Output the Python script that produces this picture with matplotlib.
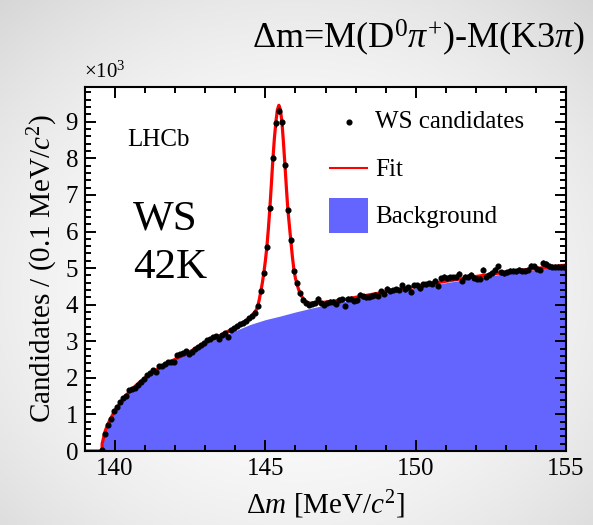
import numpy as np
import matplotlib
matplotlib.use("Agg")
import matplotlib.pyplot as plt
from matplotlib.lines import Line2D
from matplotlib.patches import Rectangle
from matplotlib.ticker import MultipleLocator, FuncFormatter

plt.rcParams["font.family"] = ["Liberation Serif", "DejaVu Serif"]
plt.rcParams["mathtext.fontset"] = "custom"
plt.rcParams["mathtext.rm"] = "Liberation Serif"
plt.rcParams["mathtext.it"] = "Liberation Serif:italic"
plt.rcParams["mathtext.bf"] = "Liberation Serif:bold"

# ---- histogram of WS candidates: 0.1 MeV bins starting at 139.5 MeV ----
BIN_START = 139.5
BIN_WIDTH = 0.1
ws_counts = [
    30, 470, 700, 880, 1080, 1200, 1330, 1460, 1500, 1660,
    1690, 1720, 1800, 1890, 1960, 2070, 2120, 2210, 2170, 2310,
    2330, 2370, 2420, 2420, 2440, 2620, 2650, 2680, 2720, 2640,
    2700, 2800, 2840, 2900, 2940, 3030, 3050, 3110, 3140, 3050,
    3170, 3230, 3120, 3310, 3350, 3420, 3470, 3510, 3560, 3630,
    3700, 3780, 3960, 4380, 4860, 5580, 6650, 8020, 8960, 9300,
    8980, 7810, 6580, 5760, 4910, 4600, 4310, 4140, 4050, 3990,
    4030, 4050, 4160, 4050, 3990, 4050, 4080, 4080, 4020, 4140,
    4150, 3960, 4160, 4160, 4110, 4120, 4270, 4230, 4200, 4220,
    4250, 4270, 4250, 4360, 4290, 4440, 4380, 4400, 4420, 4400,
    4530, 4420, 4470, 4350, 4530, 4530, 4450, 4560, 4560, 4580,
    4570, 4650, 4510, 4720, 4760, 4720, 4750, 4750, 4760, 4840,
    4650, 4760, 4760, 4810, 4730, 4710, 4710, 4950, 4760, 4820,
    4870, 4960, 5050, 4890, 4860, 4890, 4930, 4930, 4910, 4950,
    4930, 4930, 4950, 5070, 5050, 4980, 4960, 5140, 5110, 5050,
    5040, 5040, 5040, 5030, 5030,
]

# ---- fitted total model ----
fit_dm = [
    139.00, 139.57, 139.57, 139.60, 139.65, 139.70, 139.80, 139.90, 140.00,
    140.20, 140.40, 140.60, 140.80, 141.00, 141.25, 141.50, 141.75, 142.00,
    142.50, 143.00, 143.50, 144.00, 144.20, 144.40, 144.55, 144.65, 144.70,
    144.75, 144.80, 144.85, 144.90, 144.95, 145.00, 145.05, 145.10, 145.15,
    145.20, 145.25, 145.30, 145.35, 145.40, 145.45, 145.50, 145.55, 145.60,
    145.65, 145.70, 145.75, 145.80, 145.85, 145.90, 145.95, 146.00, 146.05,
    146.10, 146.15, 146.25, 146.35, 146.50, 146.75, 147.00, 147.50, 148.00,
    149.00, 150.00, 151.00, 152.00, 153.00, 154.00, 155.00,
]
fit_val = [
    0, 0, 200, 300, 490, 610, 800, 960, 1110,
    1350, 1550, 1720, 1870, 2000, 2150, 2280, 2400, 2510,
    2720, 2960, 3160, 3380, 3470, 3580, 3690, 3800, 3860,
    3970, 4150, 4370, 4600, 4880, 5200, 5580, 6080, 6650,
    7300, 7980, 8550, 9000, 9330, 9450, 9330, 9000, 8450,
    7830, 7180, 6580, 6150, 5720, 5300, 4950, 4720, 4570,
    4430, 4320, 4170, 4080, 4040, 4050, 4070, 4120, 4200,
    4350, 4500, 4640, 4770, 4890, 4990, 5080,
]

# ---- fitted background component ----
bkg_dm = [
    139.57, 139.60, 139.65, 139.70, 139.80, 139.90, 140.00, 140.20, 140.40,
    140.60, 140.80, 141.00, 141.25, 141.50, 141.75, 142.00, 142.50, 143.00,
    143.50, 144.00, 144.50, 145.00, 145.50, 146.00, 146.50, 147.00, 147.50,
    148.00, 149.00, 150.00, 151.00, 152.00, 153.00, 154.00, 155.00,
]
bkg_val = [
    0, 280, 480, 600, 790, 950, 1100, 1340, 1540,
    1710, 1860, 1990, 2140, 2270, 2390, 2500, 2700, 2930,
    3110, 3290, 3460, 3590, 3690, 3800, 3900, 3990, 4070,
    4160, 4310, 4460, 4600, 4730, 4850, 4960, 5060,
]

x_ticks = [140, 145, 150, 155]

W, H = 593, 525
fig = plt.figure(figsize=(W / 100, H / 100), dpi=100)

# soft slide-style backdrop
bg_ax = fig.add_axes([0, 0, 1, 1], zorder=-10)
yy, xx = np.mgrid[0:1:200j, 0:1:200j]
rad = np.sqrt(((xx - 0.5) / 0.62) ** 2 + ((yy - 0.55) / 0.62) ** 2)
shade = 1.0 - 0.11 * np.clip(rad, 0, 1.3) ** 2
bg_ax.imshow(np.dstack([shade] * 3), extent=[0, 1, 0, 1], aspect="auto",
             origin="upper")
bg_ax.set_axis_off()

x0, x1, y0, y1 = 85, 566, 87, 451
ax = fig.add_axes([x0 / W, 1 - y1 / H, (x1 - x0) / W, (y1 - y0) / H])
ax.set_facecolor("white")

centers = BIN_START + BIN_WIDTH * (np.arange(len(ws_counts)) + 0.5)
counts = np.array(ws_counts, dtype=float)

ax.fill_between(bkg_dm, 0, bkg_val, color="#6464ff", lw=0, zorder=1)
ax.plot(fit_dm, fit_val, color="#ff0000", lw=2.3, zorder=2,
        solid_joinstyle="round")
ax.errorbar(centers, counts, yerr=np.sqrt(counts), fmt="o", color="black",
            ms=3.4, elinewidth=1.0, capsize=0, zorder=3)

ax.set_xlim(139, 155)
ax.set_ylim(0, 9950)
ax.set_xticks(x_ticks)
ax.xaxis.set_minor_locator(MultipleLocator(1))
ax.yaxis.set_major_locator(MultipleLocator(1000))
ax.yaxis.set_minor_locator(MultipleLocator(200))
ax.yaxis.set_major_formatter(FuncFormatter(lambda v, p: f"{v / 1000:.0f}"))

ax.tick_params(which="both", direction="in", top=True, right=True,
               width=1.4, labelsize=18, color="black")
ax.tick_params(which="major", length=8)
ax.tick_params(which="minor", length=4.3)
ax.tick_params(axis="x", pad=5)
ax.tick_params(axis="y", pad=5)
for s in ax.spines.values():
    s.set_linewidth(1.5)

ax.set_xlabel(r"$\Delta$$m$ [MeV/$c^2$]", fontsize=21, labelpad=6)
ax.set_ylabel(r"Candidates / (0.1 MeV/$c^2$)", fontsize=21, labelpad=4)

fig.text(x0 / W - 0.002, 1 - 83 / H, r"$\times$10$^{3}$", fontsize=15,
         ha="left", va="bottom")
fig.text(585 / W, 1 - 38 / H, r"$\Delta$m=M(D$^{0}\pi^{+}$)-M(K3$\pi$)",
         fontsize=26, ha="right", va="center")


def ax_pt(px, py):
    return ((px - x0) / (x1 - x0), (y1 - py) / (y1 - y0))


ax.text(*ax_pt(127, 140), "LHCb", transform=ax.transAxes, fontsize=18,
        ha="left", va="center")
ax.text(*ax_pt(133, 219), "WS", transform=ax.transAxes, fontsize=31,
        ha="left", va="center")
ax.text(*ax_pt(133, 268), "42K", transform=ax.transAxes, fontsize=31,
        ha="left", va="center")

# legend
px, py = ax_pt(349, 122)
ax.add_line(Line2D([px], [py], marker="o", ms=3.4, color="black",
                   transform=ax.transAxes, zorder=5))
ax.text(*ax_pt(375, 122), "WS candidates", transform=ax.transAxes,
        fontsize=18, ha="left", va="center")
lx0, ly = ax_pt(330, 168)
lx1, _ = ax_pt(367, 168)
ax.add_line(Line2D([lx0, lx1], [ly, ly], color="#ff0000", lw=1.5,
                   transform=ax.transAxes, zorder=5))
ax.text(*ax_pt(375, 170), "Fit", transform=ax.transAxes, fontsize=18,
        ha="left", va="center")
bx0, by0 = ax_pt(329, 233)
bx1, by1 = ax_pt(368, 198)
ax.add_patch(Rectangle((bx0, by0), bx1 - bx0, by1 - by0, color="#6464ff",
                       transform=ax.transAxes, lw=0, zorder=5))
ax.text(*ax_pt(375, 217), "Background", transform=ax.transAxes,
        fontsize=18, ha="left", va="center")

fig.savefig("out.png", dpi=100)
